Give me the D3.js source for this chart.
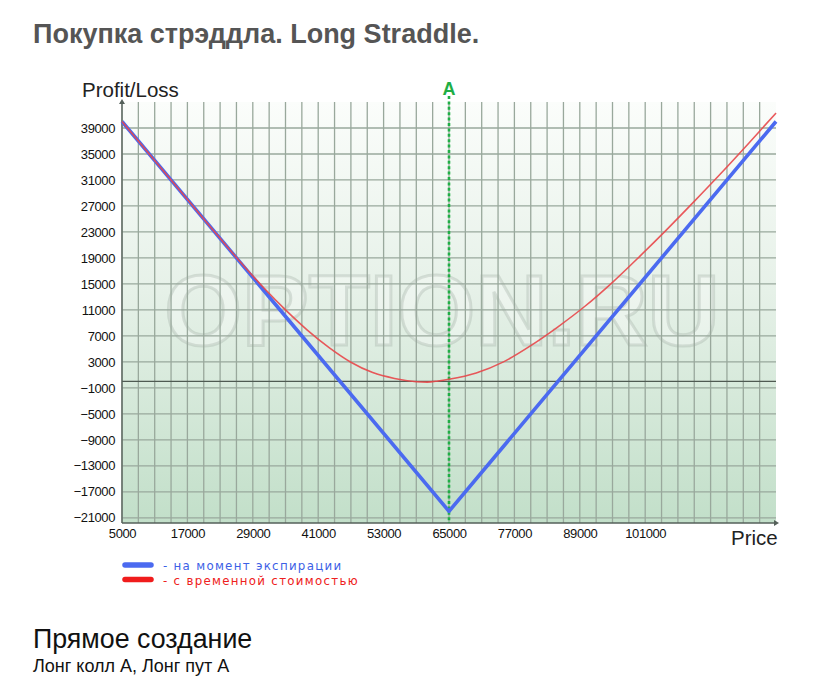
<!DOCTYPE html>
<html><head><meta charset="utf-8">
<script src="https://cdn.jsdelivr.net/npm/d3@7"></script>
<style>
html,body{margin:0;padding:0;background:#fff;}
svg{display:block;}
</style></head>
<body>
<svg id="chart" width="831" height="688"></svg>
<script>
// ---- data ----
const priceTicks = [5000, 17000, 29000, 41000, 53000, 65000, 77000, 89000, 101000];
const plTicks = [-21000, -17000, -13000, -9000, -5000, -1000, 3000, 7000, 11000, 15000, 19000, 23000, 27000, 31000, 35000, 39000];
const expiryPrice = [5000, 65000, 125000];
const expiryPL = [40000, -20000, 40000];
const timePrice = [5000, 13000, 21000, 27000, 31000, 35000, 39000, 43000, 47000, 51000, 55000, 59000, 61000, 63000, 65000, 70000, 75000, 80000, 85000, 90000, 95000, 100000, 105000, 110000, 115000, 120000, 125000];
const timePL    = [40000, 32000, 24000, 18100, 14400, 11000, 7900, 5200, 2950, 1350, 450, -50, -120, 60, 330, 1300, 3000, 5500, 8400, 11600, 15250, 19250, 23400, 27700, 32100, 36650, 41300];
const strikeA = 65000;
const strikeLabel = "A";
const legendLabels = ["- на момент экспирации", "- с временной стоимостью"];

// ---- layout ----
const svg = d3.select("#chart");
const L = 122, R = 776, T = 102, B = 523;
const x = d3.scaleLinear().domain([5000, 125000]).range([L, R]);
const y = d3.scaleLinear().domain([-21800, 43000]).range([B, T]);

const defs = svg.append("defs");
const grad = defs.append("linearGradient").attr("id", "bg").attr("x1", 0).attr("y1", 0).attr("x2", 0).attr("y2", 1);
grad.append("stop").attr("offset", "0%").attr("stop-color", "#fbfdfb");
grad.append("stop").attr("offset", "45%").attr("stop-color", "#e6f1e8");
grad.append("stop").attr("offset", "100%").attr("stop-color", "#c2dfc9");

// title
svg.append("text").attr("x", 33).attr("y", 43)
  .attr("font-family", "'Liberation Sans', Arial, sans-serif").attr("font-weight", "bold")
  .attr("font-size", 27).attr("fill", "#555555").text("Покупка стрэддла. Long Straddle.");

// plot bg
svg.append("rect").attr("x", L).attr("y", T).attr("width", R - L).attr("height", B - T).attr("fill", "url(#bg)");

// watermark
svg.append("text").attr("x", 442).attr("y", 345).text("OPTION.RU")
  .attr("font-family", "'Liberation Sans', Arial, sans-serif")
  .attr("font-weight", "bold").attr("font-size", 100).attr("text-anchor", "middle")
  .attr("fill", "#ffffff").attr("fill-opacity", 0.3)
  .attr("stroke", "#98a49a").attr("stroke-opacity", 0.3).attr("stroke-width", 3);

// grid
const gridX = d3.range(5000, 122001, 3000);
svg.append("g").selectAll("line").data(gridX).join("line")
  .attr("x1", d => x(d)).attr("x2", d => x(d)).attr("y1", T).attr("y2", B)
  .attr("stroke", "#99a89c").attr("stroke-width", 1.3);
svg.append("g").selectAll("line").data(plTicks).join("line")
  .attr("x1", L).attr("x2", R).attr("y1", d => y(d)).attr("y2", d => y(d))
  .attr("stroke", "#99a89c").attr("stroke-width", 1.3);

// zero line
svg.append("line").attr("x1", L).attr("x2", R).attr("y1", y(0)).attr("y2", y(0))
  .attr("stroke", "#4f5a52").attr("stroke-width", 1.2);

// axes
const xAxis = d3.axisBottom(x).tickValues(priceTicks).tickSize(0).tickPadding(12).tickFormat(d3.format("d"));
const yAxis = d3.axisLeft(y).tickValues(plTicks).tickSize(0).tickPadding(7).tickFormat(d3.format("d"));
const gx = svg.append("g").attr("transform", `translate(0,${B})`).call(xAxis);
const gy = svg.append("g").attr("transform", `translate(${L},0)`).call(yAxis);
[gx, gy].forEach(g => {
  g.select(".domain").remove();
  g.selectAll("text").attr("font-family", "'Liberation Sans', Arial, sans-serif")
    .attr("font-size", 13).attr("letter-spacing", "-0.4").attr("fill", "#111");
});
gx.selectAll("text").attr("dy", "0.2em");
svg.append("line").attr("x1", L).attr("x2", R).attr("y1", B).attr("y2", B).attr("stroke", "#55605a").attr("stroke-width", 1.3);
svg.append("line").attr("x1", L).attr("x2", L).attr("y1", T).attr("y2", B).attr("stroke", "#55605a").attr("stroke-width", 1.3);
svg.append("path").attr("d", `M${R + 3},${B} L${R - 2},${B - 3} L${R - 2},${B + 3}Z`).attr("fill", "#55605a");
svg.append("path").attr("d", `M${L},${T - 3} L${L - 3},${T + 2} L${L + 3},${T + 2}Z`).attr("fill", "#55605a");

// axis titles
svg.append("text").attr("x", 82).attr("y", 97).attr("font-family", "'Liberation Sans', Arial, sans-serif")
  .attr("font-size", 20.5).attr("fill", "#222").text("Profit/Loss");
svg.append("text").attr("x", 731).attr("y", 545).attr("font-family", "'Liberation Sans', Arial, sans-serif")
  .attr("font-size", 20.5).attr("fill", "#222").text("Price");

// strike line
svg.append("line").attr("x1", x(strikeA)).attr("x2", x(strikeA)).attr("y1", 96).attr("y2", B)
  .attr("stroke", "#1fae45").attr("stroke-width", 2.6).attr("stroke-dasharray", "3,2.4");
svg.append("text").attr("x", x(strikeA)).attr("y", 95).attr("text-anchor", "middle")
  .attr("font-family", "'Liberation Sans', Arial, sans-serif").attr("font-weight", "bold")
  .attr("font-size", 18).attr("fill", "#1fae45").text(strikeLabel);

// lines
const line = d3.line().x(d => x(d[0])).y(d => y(d[1]));
const curve = d3.line().x(d => x(d[0])).y(d => y(d[1])).curve(d3.curveMonotoneX);
svg.append("path").datum(d3.zip(expiryPrice, expiryPL)).attr("d", line)
  .attr("fill", "none").attr("stroke", "#4b6af0").attr("stroke-width", 3.6).attr("stroke-linejoin", "round");
svg.append("path").datum(d3.zip(timePrice, timePL)).attr("d", curve)
  .attr("fill", "none").attr("stroke", "#e8474a").attr("stroke-width", 1.6).attr("stroke-opacity", 0.9);

// legend
const legColors = ["#4b6af0", "#f01c1c"];
const legTextColors = ["#3d5fe6", "#ee2020"];
const lg = svg.append("g");
legendLabels.forEach((t, i) => {
  const yy = 565 + i * 14.5;
  lg.append("line").attr("x1", 125).attr("x2", 151).attr("y1", yy).attr("y2", yy)
    .attr("stroke", legColors[i]).attr("stroke-width", 5.5).attr("stroke-linecap", "round");
  lg.append("text").attr("x", 163).attr("y", yy + 5).attr("font-family", "'DejaVu Sans', Verdana, sans-serif")
    .attr("font-size", 11.8).attr("letter-spacing", "1.3").attr("fill", legTextColors[i]).text(t);
});

// bottom texts
svg.append("text").attr("x", 33).attr("y", 648).attr("font-family", "'Liberation Sans', Arial, sans-serif")
  .attr("font-size", 26.8).attr("fill", "#111").text("Прямое создание");
svg.append("text").attr("x", 33).attr("y", 672).attr("font-family", "'Liberation Sans', Arial, sans-serif")
  .attr("font-size", 18).attr("fill", "#111").text("Лонг колл А, Лонг пут А");
</script>
</body></html>
